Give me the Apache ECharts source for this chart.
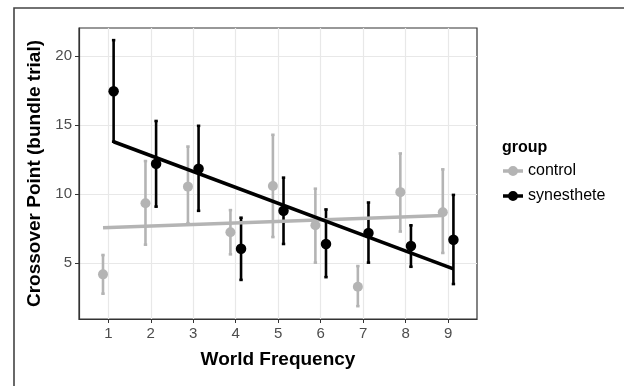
<!DOCTYPE html>
<html>
<head>
<meta charset="utf-8">
<script src="https://cdn.jsdelivr.net/npm/echarts@6/dist/echarts.min.js"></script>
<style>
  html, body { margin: 0; padding: 0; background: #fff; }
  #chart { width: 624px; height: 386px; }
</style>
</head>
<body>
<div id="chart"></div>
<script>
// word frequency bins
const freq = [1, 2, 3, 4, 5, 6, 7, 8, 9]

// control group: mean and error bar limits
const controlMean = [4.2, 9.35, 10.55, 7.25, 10.6, 7.75, 3.3, 10.15, 8.7]
const controlLow = [2.8, 6.35, 7.9, 5.65, 6.9, 5.05, 1.9, 7.3, 5.75]
const controlHigh = [5.6, 12.4, 13.45, 8.85, 14.3, 10.4, 4.8, 12.95, 11.8]

// synesthete group
const synMean = [17.45, 12.2, 11.85, 6.05, 8.8, 6.4, 7.2, 6.25, 6.7]
const synLow = [13.8, 9.1, 8.8, 3.8, 6.4, 4.0, 5.05, 4.75, 3.5]
const synHigh = [21.15, 15.3, 14.95, 8.3, 11.2, 8.9, 9.4, 7.75, 9.95]

// fitted lines (start / end)
const controlFit = [[0.875, 7.57], [8.875, 8.46]]
const synFit = [[1.125, 13.8], [9.125, 4.6]]

const xTicks = [1, 2, 3, 4, 5, 6, 7, 8, 9]
const yTicks = [5, 10, 15, 20]

const DODGE = 0.125
const GREY = '#b4b4b4'
const FONT = 'Liberation Sans, Arial, sans-serif'

const pts = (mean, shift) => freq.map((f, i) => [f + shift, mean[i]])
const bars = (lo, hi, shift) => freq.map((f, i) => [f + shift, lo[i], hi[i]])

const errorBar = (color) => function (params, api) {
  const x = api.value(0)
  const lo = api.coord([x, api.value(1)])
  const hi = api.coord([x, api.value(2)])
  const capL = api.coord([x - 0.04, api.value(2)])
  const capR = api.coord([x + 0.04, api.value(2)])
  const capL2 = api.coord([x - 0.04, api.value(1)])
  const capR2 = api.coord([x + 0.04, api.value(1)])
  const style = { stroke: color, lineWidth: 2.6, lineCap: 'butt' }
  return {
    type: 'group',
    children: [
      { type: 'line', shape: { x1: lo[0], y1: lo[1], x2: hi[0], y2: hi[1] }, style: style },
      { type: 'line', shape: { x1: capL[0], y1: capL[1], x2: capR[0], y2: capR[1] }, style: style },
      { type: 'line', shape: { x1: capL2[0], y1: capL2[1], x2: capR2[0], y2: capR2[1] }, style: style }
    ]
  }
}

// legend key: short bar with a dot in the middle
const keyIcon = 'path://M0,3.3H20V6.7H0Z M15,5A5,5 0 1,1 5,5A5,5 0 1,1 15,5Z'

const chart = echarts.init(document.getElementById('chart'))
const option = {
  animation: false,
  title: {
    text: 'group',
    left: 502,
    top: 140,
    padding: 0,
    textStyle: { fontFamily: FONT, fontSize: 16, fontWeight: 'bold', color: '#000' }
  },
  legend: {
    orient: 'vertical',
    left: 503,
    top: 163,
    padding: 0,
    itemWidth: 20,
    itemHeight: 10,
    itemGap: 9,
    selectedMode: false,
    textStyle: { fontFamily: FONT, fontSize: 16, color: '#000' },
    data: [
      { name: 'control', icon: keyIcon, itemStyle: { color: GREY } },
      { name: 'synesthete', icon: keyIcon, itemStyle: { color: '#000' } }
    ]
  },
  graphic: [
    {
      type: 'rect',
      shape: { x: 14, y: 8, width: 700, height: 500 },
      style: { fill: 'none', stroke: '#444', lineWidth: 1.6 },
      silent: true
    }
  ],
  grid: {
    left: 79,
    top: 28,
    width: 398,
    height: 291,
    show: true,
    borderColor: '#333',
    borderWidth: 1.2
  },
  xAxis: {
    type: 'value',
    min: 0.31,
    max: 9.68,
    name: 'World Frequency',
    nameLocation: 'middle',
    nameGap: 31,
    nameTextStyle: { fontFamily: FONT, fontSize: 19, fontWeight: 'bold', color: '#000' },
    axisLine: { show: true, lineStyle: { color: '#333', width: 1.2 } },
    axisTick: { show: true, length: 4, customValues: xTicks, lineStyle: { color: '#333' } },
    axisLabel: { customValues: xTicks, margin: 7, fontFamily: FONT, fontSize: 15, color: '#4d4d4d' },
    splitLine: { show: true, customValues: xTicks, lineStyle: { color: '#e8e8e8', width: 1.2 } }
  },
  yAxis: {
    type: 'value',
    min: 0.97,
    max: 22.03,
    name: 'Crossover Point (bundle trial)',
    nameLocation: 'middle',
    nameGap: 31,
    nameTextStyle: { fontFamily: FONT, fontSize: 19, fontWeight: 'bold', color: '#000' },
    axisLine: { show: true, lineStyle: { color: '#333', width: 1.2 } },
    axisTick: { show: true, length: 4, customValues: yTicks, lineStyle: { color: '#333' } },
    axisLabel: { customValues: yTicks, margin: 7, fontFamily: FONT, fontSize: 15, color: '#4d4d4d' },
    splitLine: { show: true, customValues: yTicks, lineStyle: { color: '#e8e8e8', width: 1.2 } }
  },
  series: [
    {
      name: 'control',
      type: 'custom',
      renderItem: errorBar(GREY),
      data: bars(controlLow, controlHigh, -DODGE),
      encode: { x: 0, y: [1, 2] },
      itemStyle: { color: GREY }
    },
    {
      name: 'synesthete',
      type: 'custom',
      renderItem: errorBar('#000'),
      data: bars(synLow, synHigh, DODGE),
      encode: { x: 0, y: [1, 2] },
      itemStyle: { color: '#000' }
    },
    {
      name: 'control',
      type: 'scatter',
      symbol: 'circle',
      symbolSize: 10,
      itemStyle: { color: GREY, opacity: 1 },
      data: pts(controlMean, -DODGE)
    },
    {
      name: 'synesthete',
      type: 'scatter',
      symbol: 'circle',
      symbolSize: 10.5,
      itemStyle: { color: '#000', opacity: 1 },
      data: pts(synMean, DODGE)
    },
    {
      name: 'control',
      type: 'line',
      showSymbol: false,
      lineStyle: { color: GREY, width: 3.6 },
      data: controlFit
    },
    {
      name: 'synesthete',
      type: 'line',
      showSymbol: false,
      lineStyle: { color: '#000', width: 3.6 },
      data: synFit
    }
  ]
}
chart.setOption(option)
</script>
</body>
</html>
